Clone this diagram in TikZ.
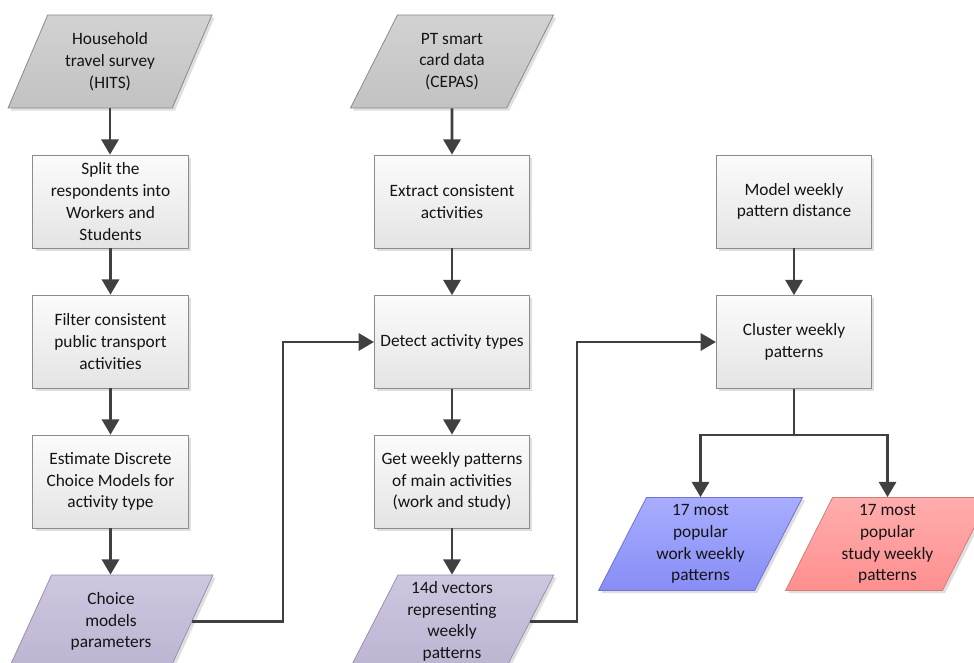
\documentclass[tikz,border=0pt]{standalone}
\usepackage{fontspec}
\setmainfont{Carlito}
\usetikzlibrary{shapes.geometric,arrows.meta,shadows}
\definecolor{boxtop}{HTML}{FBFBFB}
\definecolor{boxbot}{HTML}{E4E4E4}
\definecolor{boxline}{HTML}{8C8C8C}
\definecolor{graytop}{HTML}{D2D2D2}
\definecolor{graybot}{HTML}{C2C2C2}
\definecolor{grayline}{HTML}{8A8A8A}
\definecolor{purtop}{HTML}{CEC7DF}
\definecolor{purbot}{HTML}{BDB4D2}
\definecolor{purline}{HTML}{9890AE}
\definecolor{bluetop}{HTML}{A8ADFF}
\definecolor{bluebot}{HTML}{878DF5}
\definecolor{blueline}{HTML}{6D73CF}
\definecolor{redtop}{HTML}{FFADAD}
\definecolor{redbot}{HTML}{FF8F8F}
\definecolor{redline}{HTML}{D47C7C}
\definecolor{linec}{HTML}{404040}
\definecolor{textc}{HTML}{141414}
\begin{document}
\begin{tikzpicture}[x=0.75pt,y=-0.75pt,
  font=\fontsize{13pt}{16.3pt}\selectfont,
  proc/.style={rectangle, draw=boxline, line width=0.6pt, top color=boxtop, bottom color=boxbot,
    minimum width=116.5pt, minimum height=69.75pt, align=center, inner sep=2pt, text=textc,
    drop shadow={opacity=0.25, shadow xshift=2pt, shadow yshift=-2pt}},
  io/.style={trapezium, trapezium left angle=63.7, trapezium right angle=116.3, trapezium stretches=true,
    minimum width=153pt, minimum height=69.75pt, inner sep=0pt, align=center, line width=0.6pt, text=textc,
    drop shadow={opacity=0.25, shadow xshift=2pt, shadow yshift=-2pt}},
  grayio/.style={io, draw=grayline, top color=graytop, bottom color=graybot},
  purio/.style={io, draw=purline, top color=purtop, bottom color=purbot},
  blueio/.style={io, draw=blueline, top color=bluetop, bottom color=bluebot},
  redio/.style={io, draw=redline, top color=redtop, bottom color=redbot},
  conn/.style={draw=linec, line width=1.9pt},
  arr/.style={conn, -{Triangle[length=11.5pt,width=13pt]}}
]
\useasboundingbox (0,0) rectangle (974,663);
\fill[white] (0,0) rectangle (974,663);

% left column
\node[grayio] (hits) at (110,61.5) {Household\\travel survey\\(HITS)};
\node[proc] (split) at (110.5,201.5) {Split the\\respondents into\\Workers and\\Students};
\node[proc] (filter) at (110.5,341.5) {Filter consistent\\public transport\\activities};
\node[proc] (estimate) at (110.5,481.5) {Estimate Discrete\\Choice Models for\\activity type};
\node[purio] (choice) at (111,621.5) {Choice\\models\\parameters};

% middle column
\node[grayio] (cepas) at (452,61.5) {PT smart\\card data\\(CEPAS)};
\node[proc] (extract) at (452,201.5) {Extract consistent\\activities};
\node[proc] (detect) at (452,342) {Detect activity types};
\node[proc] (weekly) at (452,481.5) {Get weekly patterns\\of main activities\\(work and study)};
\node[purio] (vectors) at (452,621.5) {14d vectors\\representing\\weekly\\patterns};

% right column
\node[proc] (model) at (794,201.5) {Model weekly\\pattern distance};
\node[proc] (cluster) at (794,342) {Cluster weekly\\patterns};
\node[blueio] (work) at (700.5,544) {17 most\\popular\\work weekly\\patterns};
\node[redio] (study) at (887.5,544) {17 most\\popular\\study weekly\\patterns};

% connectors
\draw[arr] (hits.south) -- (hits.south |- split.north);
\draw[arr] (split) -- (filter);
\draw[arr] (filter) -- (estimate);
\draw[arr] (estimate.south) -- (estimate.south |- choice.north);

\draw[arr] (cepas) -- (extract);
\draw[arr] (extract) -- (detect);
\draw[arr] (detect) -- (weekly);
\draw[arr] (weekly) -- (vectors);

\draw[arr] (model) -- (cluster);

\coordinate (b1) at (283,0);
\coordinate (b2) at (577,0);
\draw[arr] (choice.right side) -- (choice.right side -| b1) -- (b1 |- detect.west) -- (detect.west);
\draw[arr] (vectors.right side) -- (vectors.right side -| b2) -- (b2 |- cluster.west) -- (cluster.west);

\coordinate (j) at (794,435);
\draw[conn] (cluster.south) -- (j);
\draw[arr] (j) -| (work.north);
\draw[arr] (j) -| (study.north);
\end{tikzpicture}
\end{document}
